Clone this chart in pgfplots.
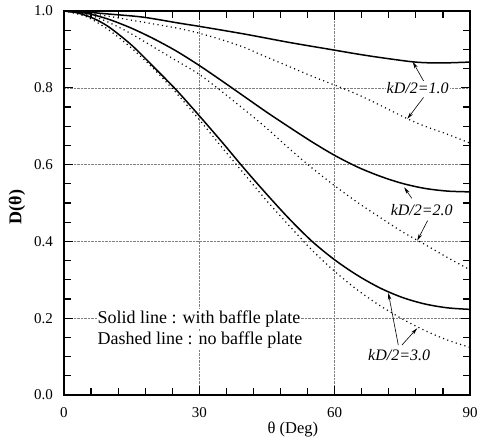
\documentclass[border=0pt]{standalone}
\usepackage{fontspec}
\setmainfont{Liberation Serif}
\usepackage{pgfplots}
\pgfplotsset{compat=1.18}
\usetikzlibrary{arrows.meta}

% solid: with baffle plate, dotted: no baffle plate
\newcommand{\solidA}{(0,1.0)(5,0.997)(10,0.992)(17.5,0.984)(25.7,0.968)(30,0.960)(40,0.940)(50,0.918)(59,0.900)(65,0.888)(70,0.879)(77,0.868)(81,0.865)(85,0.865)(90,0.867)}
\newcommand{\dotA}{(0,1.0)(5,0.995)(10,0.986)(15,0.976)(20,0.966)(25.7,0.954)(30,0.942)(35,0.925)(40,0.905)(43.5,0.887)(50,0.855)(55,0.830)(60,0.807)(65,0.783)(70,0.755)(76,0.720)(80,0.700)(85,0.679)(90,0.656)}
\newcommand{\solidB}{(0,1.0)(5,0.994)(10,0.978)(15,0.955)(20,0.927)(25,0.895)(30,0.858)(35,0.818)(40,0.777)(45,0.736)(50,0.697)(55,0.659)(60,0.624)(65,0.594)(70,0.570)(75,0.551)(80,0.538)(85,0.531)(90,0.529)}
\newcommand{\dotB}{(0,1.0)(5,0.992)(10,0.970)(15,0.940)(20,0.905)(25,0.870)(30,0.835)(35,0.790)(40,0.743)(45,0.694)(50,0.641)(55,0.591)(60,0.545)(65,0.502)(70,0.463)(75,0.425)(80,0.392)(85,0.358)(90,0.326)}
\newcommand{\solidC}{(0,1.0)(3,0.995)(6.5,0.981)(10,0.958)(15,0.911)(20,0.853)(25,0.793)(30,0.727)(35,0.659)(40,0.589)(45,0.522)(50,0.458)(55,0.400)(60,0.352)(65,0.312)(70,0.279)(75,0.254)(80,0.237)(85,0.227)(90,0.223)}
\newcommand{\dotC}{(0,1.0)(5,0.985)(10,0.950)(15,0.903)(20,0.848)(25,0.785)(30,0.717)(35,0.645)(40,0.575)(45,0.505)(50,0.440)(55,0.377)(60,0.322)(65,0.274)(70,0.233)(75,0.198)(80,0.168)(85,0.143)(90,0.124)}

\begin{document}
\begin{tikzpicture}
\begin{axis}[
    scale only axis,
    width=406pt, height=384pt,
    xmin=0, xmax=90, ymin=0, ymax=1.0,
    xtick={0,30,60,90}, ytick={0,0.2,0.4,0.6,0.8,1.0},
    minor x tick num=4, minor y tick num=3,
    tick align=inside,
    major tick length=9pt, minor tick length=7pt,
    every tick/.style={black, line width=1.2pt},
    axis line style={line width=1.6pt},
    grid=major,
    grid style={densely dotted, gray, line width=0.5pt},
    /pgf/number format/assume math mode=true,
    tick label style={font=\fontsize{15}{17}\selectfont, inner sep=0pt},
    y tick label style={/pgf/number format/fixed, /pgf/number format/fixed zerofill, /pgf/number format/precision=1, xshift=-11pt},
    x tick label style={yshift=-12pt},
    xlabel={θ (Deg)},
    ylabel={\bfseries D(θ)},
    x label style={at={(axis description cs:0.564,-0.091)}, anchor=center, font=\fontsize{16.5}{18}\selectfont},
    y label style={at={(axis description cs:-0.116,0.49)}, anchor=center, font=\fontsize{18}{20}\selectfont},
    every axis plot/.append style={smooth, tension=0.5},
]
\addplot[black, line width=1.5pt] coordinates {\solidA};
\addplot[black, line width=1.2pt, dash pattern=on 1.1pt off 3.4pt] coordinates {\dotA};
\addplot[black, line width=1.5pt] coordinates {\solidB};
\addplot[black, line width=1.2pt, dash pattern=on 1.1pt off 3.4pt] coordinates {\dotB};
\addplot[black, line width=1.5pt] coordinates {\solidC};
\addplot[black, line width=1.2pt, dash pattern=on 1.1pt off 3.4pt] coordinates {\dotC};

\begin{scope}[every node/.style={fill=white, inner sep=1pt, font=\fontsize{16}{18}\selectfont\itshape}]
\node at (axis cs:78.4,0.800) {kD/2=1.0};
\node at (axis cs:79.3,0.482) {kD/2=2.0};
\node at (axis cs:74.3,0.104) {kD/2=3.0};
\end{scope}

\draw[-{Stealth[length=7pt,width=3.5pt]}, line width=0.6pt] (axis cs:79.7,0.818) -- (axis cs:77.3,0.868);
\draw[-{Stealth[length=7pt,width=3.5pt]}, line width=0.6pt] (axis cs:79.7,0.775) -- (axis cs:76.1,0.719);
\draw[-{Stealth[length=7pt,width=3.5pt]}, line width=0.6pt] (axis cs:77.1,0.512) -- (axis cs:75.4,0.541);
\draw[-{Stealth[length=7pt,width=3.5pt]}, line width=0.6pt] (axis cs:80.6,0.454) -- (axis cs:78.3,0.402);
\draw[-{Stealth[length=7pt,width=3.5pt]}, line width=0.6pt] (axis cs:74.1,0.130) -- (axis cs:71.9,0.266);
\draw[-{Stealth[length=7pt,width=3.5pt]}, line width=0.6pt] (axis cs:74.9,0.130) -- (axis cs:78.3,0.174);

\begin{scope}[every node/.style={anchor=base west, fill=white, inner sep=1pt, font=\fontsize{18}{20}\selectfont}]
\node at (axis cs:7.2,0.1875) {Solid line : with baffle plate};
\node at (axis cs:7.2,0.131) {Dashed line : no baffle plate};
\end{scope}
\end{axis}
\pgfresetboundingbox
\path ([shift={(-64pt,-47pt)}]current axis.south west) rectangle ([shift={(11pt,11pt)}]current axis.north east);
\end{tikzpicture}
\end{document}
